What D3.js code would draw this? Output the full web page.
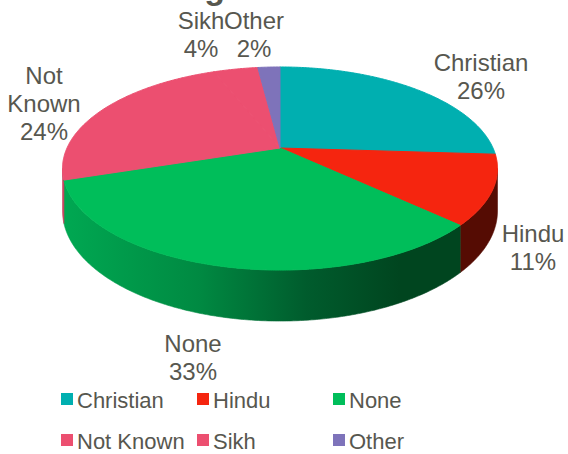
<!DOCTYPE html>
<html><head><meta charset="utf-8">
<script src="https://cdn.jsdelivr.net/npm/d3@7"></script>
<style>body{margin:0;background:#fff}svg{display:block}</style>
</head><body>
<script>
const categories = ["Christian","Hindu","None","Not Known","Sikh","Other"];
const values = [26,11,33,24,4,2];
const percentLabels = ["26%","11%","33%","24%","4%","2%"];
const topColors = ["#00AFB0","#F5250F","#00BE5A","#EC4F70","#EC4F70","#7E73BA"];
const titleText = "Religion";

const W = 568, H = 454;
const svg = d3.select("body").append("svg").attr("width",W).attr("height",H);
const font = "'Liberation Sans', Arial, sans-serif";
const textCol = "#57574F";

// title (mostly above the visible area, as in the reference)
svg.append("text").attr("x",142).attr("y",-1).attr("font-family",font)
  .attr("font-weight","bold").attr("font-size",34).attr("fill",textCol).text(titleText);

// perspective projection of a unit disk
const cx = 280, cy = 148, k = 213, m = 97.4, p = 0.202, depth = 40.7;
function proj(t, drop) {
  const X = Math.sin(t), Y = -Math.cos(t), w = 1 - p*Y;
  return [cx + k*X/w, cy + m*Y/w + (drop||0)/w];
}
const pie = d3.pie().sort(null).value(d=>d).startAngle(0).endAngle(2*Math.PI);
const arcs = pie(values);
const line = d3.line();
function arcPts(a, b, drop) {
  const n = Math.max(2, Math.ceil((b-a)/(Math.PI/360)));
  return d3.range(n+1).map(i => proj(a + (b-a)*i/n, drop));
}

// gradients for sides
const defs = svg.append("defs");
const gradSpecs = {
  green: [["0%","#00A852"],["40%","#008A42"],["72%","#005C2D"],["100%","#00451F"]],
  red: [["0%","#6A1006"],["100%","#550C03"]],
  pink: [["0%","#C8405E"],["100%","#B03852"]],
  teal: [["0%","#008A8A"],["100%","#006565"]],
  purple: [["0%","#5F5690"],["100%","#4C4475"]]
};
Object.entries(gradSpecs).forEach(([id, stops]) => {
  const g = defs.append("linearGradient").attr("id","g_"+id)
    .attr("gradientUnits","userSpaceOnUse").attr("x1",63).attr("x2",400).attr("y1",0).attr("y2",0);
  stops.forEach(s => g.append("stop").attr("offset",s[0]).attr("stop-color",s[1]));
});
const sideFill = ["url(#g_teal)","url(#g_red)","url(#g_green)","url(#g_pink)","url(#g_pink)","url(#g_purple)"];

// visible side range: Y >= p
const vA = Math.acos(-p), vB = 2*Math.PI - Math.acos(-p);
const sides = svg.append("g");
arcs.forEach((d,i) => {
  const a = Math.max(d.startAngle, vA), b = Math.min(d.endAngle, vB);
  if (b <= a) return;
  const top = arcPts(a, b, 0), bot = arcPts(a, b, depth).reverse();
  sides.append("path").attr("d", line(top.concat(bot)) + "Z")
    .attr("fill", sideFill[i]).attr("stroke", sideFill[i]).attr("stroke-width",0.6);
});

// top faces
const tops = svg.append("g");
arcs.forEach((d,i) => {
  const pts = [[cx,cy]].concat(arcPts(d.startAngle, d.endAngle, 0));
  tops.append("path").attr("d", line(pts) + "Z")
    .attr("fill", topColors[i]).attr("stroke", topColors[i]).attr("stroke-width",1).attr("stroke-linejoin","round");
});

// data labels
const labelLines = [["Christian"],["Hindu"],["None"],["Not","Known"],["Sikh"],["Other"]];
const labelAnchor = [[481,71],[533,242],[193,352],[44,84],[201,29],[254,29]];
const lg = svg.append("g").attr("font-family",font).attr("font-size",24).attr("fill",textCol).attr("text-anchor","middle");
categories.forEach((c,i) => {
  const t = lg.append("text");
  const ls = labelLines[i].concat([percentLabels[i]]);
  ls.forEach((s,j) => t.append("tspan").attr("x",labelAnchor[i][0]).attr("y",labelAnchor[i][1]+j*28).text(s));
});

// legend
const legCols = [61,197,333], legRows = [408,449];
const leg = svg.append("g").attr("font-family",font).attr("font-size",22).attr("fill",textCol);
categories.forEach((c,i) => {
  const x = legCols[i%3], y = legRows[Math.floor(i/3)];
  leg.append("rect").attr("x",x).attr("y",y-15).attr("width",12).attr("height",12).attr("fill",topColors[i]);
  leg.append("text").attr("x",x+16).attr("y",y).text(c);
});
</script>
</body></html>
